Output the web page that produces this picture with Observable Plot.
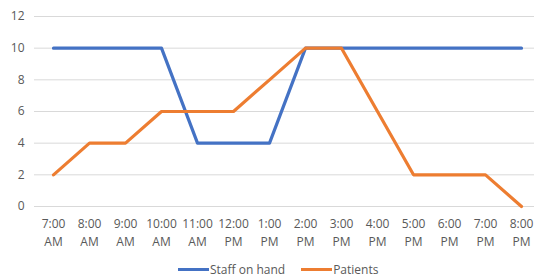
<!DOCTYPE html>
<html>
<head>
<meta charset="utf-8">
<script src="https://cdn.jsdelivr.net/npm/d3@7"></script>
<script src="https://cdn.jsdelivr.net/npm/@observablehq/plot@0.6"></script>
<style>
  body { margin: 0; background: white; font-family: 'Open Sans', sans-serif; }
  #legend { height: 22px; padding-top: 2px; display: flex; align-items: center; margin-left: 178px; font-size: 12px; color: #595959; }
  .sw { display: inline-block; width: 31px; height: 3px; margin-right: 1px; }
  .item { display: flex; align-items: center; margin-right: 16px; }
</style>
</head>
<body>
<div id="chart"></div>
<div id="legend"></div>
<script>
const times = ["7:00 AM","8:00 AM","9:00 AM","10:00 AM","11:00 AM","12:00 PM","1:00 PM","2:00 PM","3:00 PM","4:00 PM","5:00 PM","6:00 PM","7:00 PM","8:00 PM"];
const staff = [10,10,10,10,4,4,4,10,10,10,10,10,10,10];
const patients = [2,4,4,6,6,6,8,10,10,6,2,2,2,0];
const yTicks = [0,2,4,6,8,10,12];
const seriesNames = ["Staff on hand","Patients"];
const colors = ["#4472C4","#ED7D31"];

const chart = Plot.plot({
  width: 534,
  height: 256,
  marginTop: 16,
  marginBottom: 50,
  marginLeft: 34,
  marginRight: 0,
  style: { fontFamily: "'Open Sans', sans-serif", fontSize: "12px", color: "#595959", background: "white" },
  x: { type: "point", domain: times, range: [52, 522], padding: 0 },
  y: { domain: [0, 12] },
  marks: [
    Plot.ruleY(yTicks, { stroke: "#d9d9d9", strokeWidth: 1 }),
    Plot.axisY(yTicks, { tickSize: 0, tickPadding: 10, label: null }),
    Plot.axisX({ tickSize: 0, tickPadding: 9, label: null, lineHeight: 1.5, tickFormat: d => d.replace(" ", "\n") }),
    Plot.line(times, { x: d => d, y: (d, i) => staff[i], stroke: colors[0], strokeWidth: 3.2 }),
    Plot.line(times, { x: d => d, y: (d, i) => patients[i], stroke: colors[1], strokeWidth: 3.2 })
  ]
});
document.getElementById("chart").appendChild(chart);

const legend = document.getElementById("legend");
seriesNames.forEach((name, i) => {
  const item = document.createElement("span");
  item.className = "item";
  const sw = document.createElement("span");
  sw.className = "sw";
  sw.style.background = colors[i];
  item.appendChild(sw);
  item.appendChild(document.createTextNode(name));
  legend.appendChild(item);
});
</script>
</body>
</html>
